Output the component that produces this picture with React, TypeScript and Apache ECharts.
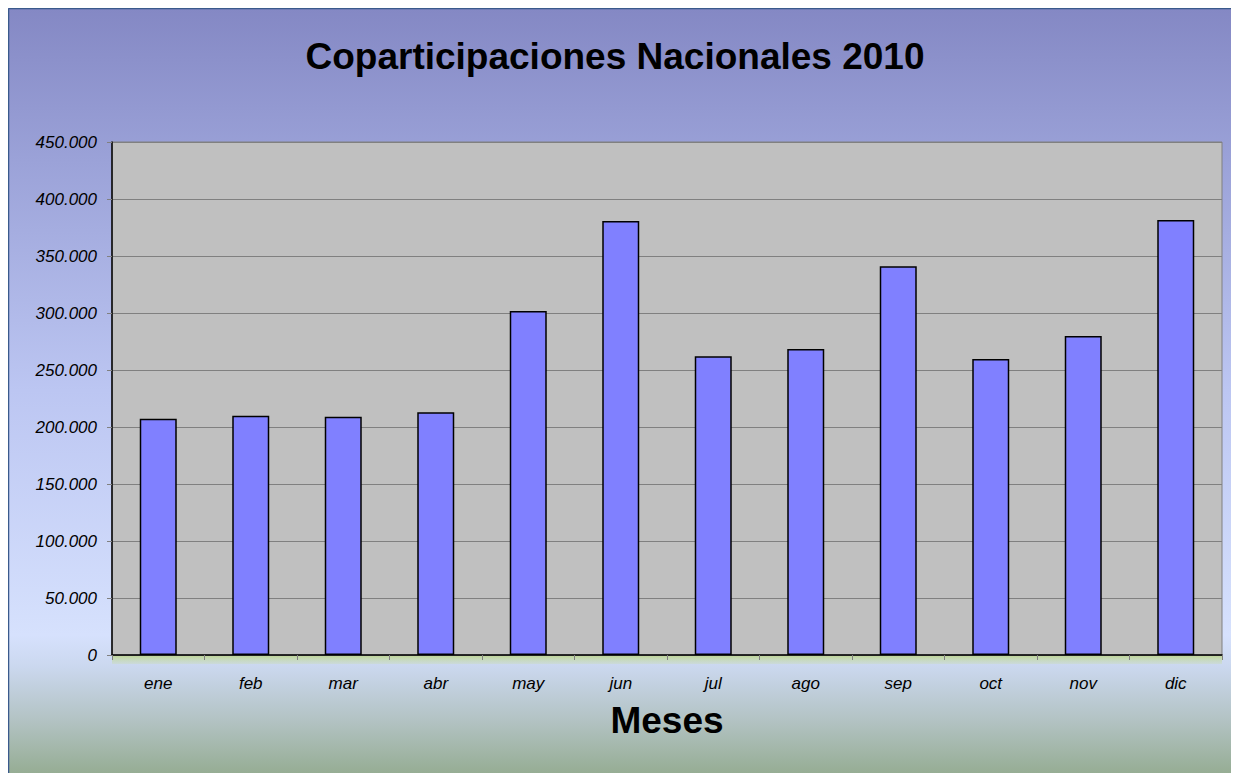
import React, { useEffect, useRef } from "react";
import * as echarts from "echarts";

const months = ["ene", "feb", "mar", "abr", "may", "jun", "jul", "ago", "sep", "oct", "nov", "dic"];
const values = [207300, 209900, 209000, 213000, 301700, 380700, 262000, 268400, 341000, 259600, 279800, 381600];
const titleText = "Coparticipaciones Nacionales 2010";
const xAxisName = "Meses";

const fmt = (v: number) => (v === 0 ? "0" : String(v).replace(/\B(?=(\d{3})+(?!\d))/g, "."));

export default function App() {
  const ref = useRef<HTMLDivElement>(null);
  useEffect(() => {
    const chart = echarts.init(ref.current!, undefined, { renderer: "svg" });
    const W = 1231, H = 765;
    const gl = 104, gt = 134, gr = 17, gb = 118;
    chart.setOption({
      animation: false,
      backgroundColor: new echarts.graphic.LinearGradient(0, 0, 0, 1, [
        { offset: 0, color: "#8488c4" },
        { offset: 0.2, color: "#9ba2d8" },
        { offset: 0.5, color: "#bcc6f2" },
        { offset: 0.82, color: "#d6e1fd" },
        { offset: 0.86, color: "#cbd8ef" },
        { offset: 0.93, color: "#b3c3c4" },
        { offset: 1, color: "#96ad94" },
      ]),
      title: {
        text: titleText,
        left: 602,
        top: 25,
        textAlign: "center",
        textStyle: { fontFamily: "Liberation Sans, Arial", fontWeight: "bold", fontSize: 37, color: "#000" },
      },
      graphic: [
        { type: "line", shape: { x1: 0.5, y1: 0.5, x2: W, y2: 0.5 }, style: { stroke: "#3a5a8c", lineWidth: 1.5 } },
        { type: "line", shape: { x1: 0.5, y1: 0.5, x2: 0.5, y2: H }, style: { stroke: "#3a5a8c", lineWidth: 1.5 } },
        {
          type: "rect",
          shape: { x: gl, y: H - gb, width: W - gl - gr, height: 9 },
          style: {
            fill: new echarts.graphic.LinearGradient(0, 0, 0, 1, [
              { offset: 0, color: "#bdd492" },
              { offset: 1, color: "rgba(200,220,170,0.3)" },
            ]),
          },
          z: -1,
        },
      ],
      grid: {
        left: gl,
        top: gt,
        right: gr,
        bottom: gb,
        show: true,
        backgroundColor: "#c0c0c0",
        borderColor: "#808080",
        borderWidth: 1,
      },
      xAxis: {
        type: "category",
        data: months,
        name: xAxisName,
        nameLocation: "middle",
        nameGap: 47,
        nameTextStyle: { fontFamily: "Liberation Sans, Arial", fontWeight: "bold", fontSize: 37, color: "#000" },
        axisLine: { lineStyle: { color: "#000", width: 1.5 } },
        axisTick: { show: true, length: 5, lineStyle: { color: "#808080" } },
        axisLabel: {
          fontFamily: "Liberation Sans, Arial",
          fontStyle: "italic",
          fontSize: 17,
          color: "#000",
          margin: 20,
        },
      },
      yAxis: {
        type: "value",
        min: 0,
        max: 450000,
        interval: 50000,
        axisLine: { show: true, lineStyle: { color: "#000", width: 1.5 } },
        axisTick: { show: true, length: 5, lineStyle: { color: "#808080" } },
        splitLine: { lineStyle: { color: "#808080", width: 1 } },
        axisLabel: {
          fontFamily: "Liberation Sans, Arial",
          fontStyle: "italic",
          fontSize: 17,
          color: "#000",
          margin: 15,
          formatter: (v: number) => fmt(v),
        },
      },
      series: [
        {
          type: "bar",
          data: values,
          barWidth: "40%",
          itemStyle: { color: "#8080ff", borderColor: "#000", borderWidth: 1.5 },
        },
      ],
    });
    return () => chart.dispose();
  }, []);
  return <div ref={ref} style={{ width: 1231, height: 765 }} />;
}
